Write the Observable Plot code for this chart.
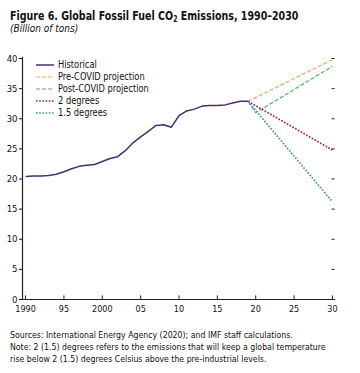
<!DOCTYPE html>
<html>
<head>
<meta charset="utf-8">
<script src="https://cdn.jsdelivr.net/npm/d3@7"></script>
<script src="https://cdn.jsdelivr.net/npm/@observablehq/plot@0.6"></script>
<style>
  html, body { margin: 0; padding: 0; background: #fff; }
  body { width: 360px; height: 373px; position: relative; overflow: hidden;
         font-family: "Liberation Sans Narrow", "DejaVu Sans Condensed", "Arial Narrow", sans-serif; color: #111; }
  #title { position: absolute; left: 10px; top: 8px; font-size: 12.5px; font-weight: bold; white-space: nowrap;
           transform: scaleX(0.845); transform-origin: left top; }
  #title sub { font-size: 8px; vertical-align: -2px; }
  #subtitle { position: absolute; left: 10px; top: 23px; font-size: 10px; font-style: italic; white-space: nowrap; }
  #chart { position: absolute; left: 0; top: 40px; }
  #legend { position: absolute; left: 36px; top: 59px; font-size: 10px; line-height: 12px; }
  #legend div { display: flex; align-items: center; height: 12px; white-space: nowrap; }
  #legend svg { margin-right: 4px; }
  #legend span { display: inline-block; transform: scaleX(0.92); transform-origin: left center; }
  #notes { position: absolute; left: 10px; top: 329px; font-size: 9px; line-height: 12px; white-space: nowrap;
           transform: scaleX(0.965); transform-origin: left top; }
</style>
</head>
<body>
<div id="title">Figure 6. Global Fossil Fuel CO<sub>2</sub> Emissions, 1990–2030</div>
<div id="subtitle">(Billion of tons)</div>
<div id="chart"></div>
<div id="legend"></div>
<div id="notes">Sources: International Energy Agency (2020); and IMF staff calculations.<br>Note: 2 (1.5) degrees refers to the emissions that will keep a global temperature<br>rise below 2 (1.5) degrees Celsius above the pre-industrial levels.</div>
<script>
// ---- Data ----
const histYears = [1990,1991,1992,1993,1994,1995,1996,1997,1998,1999,2000,2001,2002,2003,2004,2005,2006,2007,2008,2009,2010,2011,2012,2013,2014,2015,2016,2017,2018,2019];
const histValues = [20.4,20.5,20.5,20.6,20.8,21.2,21.7,22.1,22.3,22.4,22.9,23.4,23.7,24.7,26.0,27.0,27.9,28.9,29.0,28.6,30.5,31.3,31.6,32.1,32.2,32.2,32.3,32.6,32.9,32.9];
const preCovidYears = [2019, 2030];
const preCovidValues = [32.9, 39.8];
const postCovidYears = [2019, 2020, 2030];
const postCovidValues = [32.9, 31.0, 38.7];
const twoDegYears = [2019, 2030];
const twoDegValues = [32.9, 24.8];
const onePointFiveYears = [2019, 2030];
const onePointFiveValues = [32.9, 16.2];
const seriesNames = ["Historical", "Pre-COVID projection", "Post-COVID projection", "2 degrees", "1.5 degrees"];
const xTicks = [1990, 1995, 2000, 2005, 2010, 2015, 2020, 2025, 2030];
const xTickLabels = ["1990", "95", "2000", "05", "10", "15", "20", "25", "30"];
const yTicks = [0, 5, 10, 15, 20, 25, 30, 35, 40];

// ---- Styles ----
const colors = ["#4b2d6f", "#f2a373", "#52b450", "#b3174e", "#3a90b5"];
const dashes = [null, "4,2", "4,2", "1.6,1.6", "1.6,1.6"];
const widths = [1.5, 1.2, 1.2, 1.7, 1.7];

const toRows = (ys, vs) => ys.map((y, i) => ({year: y, value: vs[i]}));
const series = [
  toRows(histYears, histValues),
  toRows(preCovidYears, preCovidValues),
  toRows(postCovidYears, postCovidValues),
  toRows(twoDegYears, twoDegValues),
  toRows(onePointFiveYears, onePointFiveValues)
];

const xDomain = [1989.6, 2030.4];
const fontFam = '"Liberation Sans Narrow", "DejaVu Sans Condensed", "Arial Narrow", sans-serif';

const plot = Plot.plot({
  width: 360,
  height: 280,
  marginLeft: 22,
  marginRight: 25,
  marginTop: 18,
  marginBottom: 21,
  style: {fontFamily: fontFam, fontSize: "9px", color: "#111", background: "transparent"},
  x: {domain: xDomain, axis: null},
  y: {domain: [0, 40], axis: null},
  marks: [
    // left axis with outward ticks
    Plot.axisY({ticks: yTicks, tickSize: 3, tickPadding: 2, label: null, fontSize: 9.5}),
    Plot.ruleX([xDomain[0]], {y1: 0, y2: 40.2, stroke: "#222", strokeWidth: 1.2}),
    // right-hand tick marks (no labels)
    Plot.ruleY(yTicks.filter(d => d > 0), {x1: 2029.95, x2: 2030.35, stroke: "#222"}),
    // bottom axis labels and inward ticks
    Plot.axisX({ticks: xTicks, tickFormat: (d) => xTickLabels[xTicks.indexOf(d)], tickSize: 0, tickPadding: 6, label: null, fontSize: 9}),
    Plot.ruleX(xTicks, {y1: 0, y2: 0.6, stroke: "#222"}),
    Plot.ruleY([0], {x1: xDomain[0], x2: xDomain[1], stroke: "#222", strokeWidth: 1.2}),
    // series (projections first, historical on top)
    ...[1, 2, 3, 4, 0].map(i => Plot.line(series[i], {
      x: "year", y: "value", stroke: colors[i], strokeWidth: widths[i],
      strokeDasharray: dashes[i], strokeLinecap: "butt", curve: "linear"
    }))
  ]
});
document.getElementById("chart").appendChild(plot);

// ---- Legend ----
const legend = document.getElementById("legend");
seriesNames.forEach((name, i) => {
  const row = document.createElement("div");
  row.innerHTML = `<svg width="18" height="6"><line x1="0" y1="3" x2="18" y2="3" stroke="${colors[i]}" stroke-width="${widths[i]}" ${dashes[i] ? `stroke-dasharray="${dashes[i]}"` : ""}/></svg><span>${name}</span>`;
  legend.appendChild(row);
});
</script>
</body>
</html>
